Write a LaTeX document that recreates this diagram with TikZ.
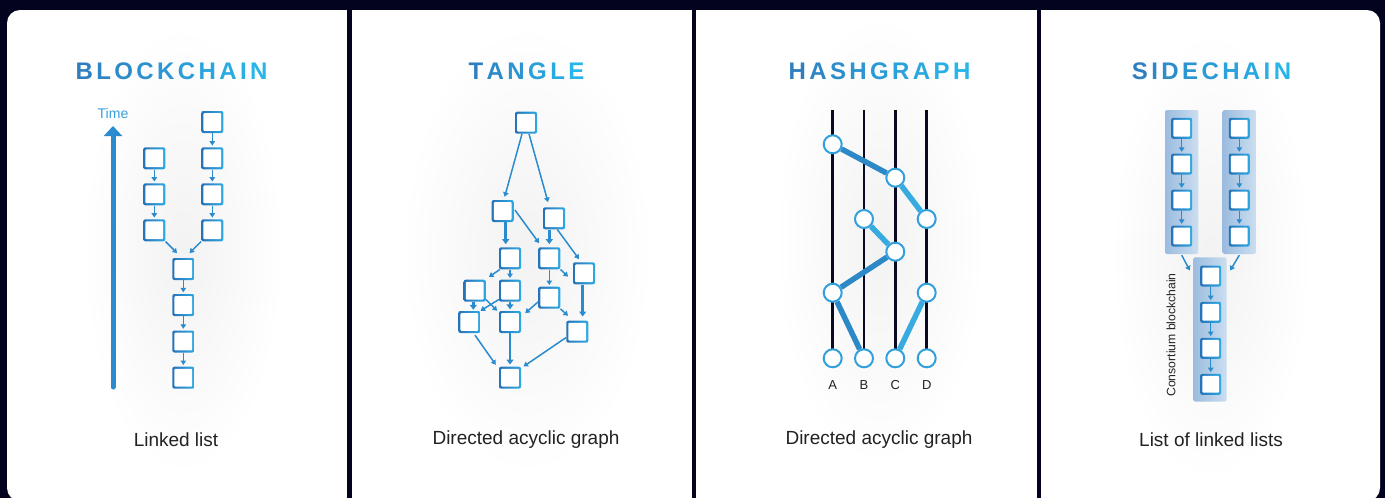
\documentclass[tikz,border=0pt]{standalone}
\usepackage{fontspec}
\setmainfont{Liberation Sans}
\usetikzlibrary{arrows.meta,calc}
\definecolor{navy}{HTML}{03031F}
\definecolor{tA}{HTML}{2F7FC0}
\definecolor{tB}{HTML}{27B6EA}
\definecolor{bxA}{HTML}{2773B8}
\definecolor{bxB}{HTML}{2FAAE4}
\definecolor{arrc}{HTML}{2B8BCF}
\definecolor{ink}{HTML}{222222}
\definecolor{vl}{HTML}{0A0922}
\definecolor{ring}{HTML}{32A0DC}
\definecolor{eA}{HTML}{2D88C8}
\definecolor{eB}{HTML}{37ABE0}
\definecolor{colA}{HTML}{9BBCDF}
\definecolor{colB}{HTML}{CCDEF0}
\newcommand\tl[2]{\textcolor{tB!#1!tA}{#2}}
\newcommand\tk{\kern3.4pt}
\tikzset{
  blk/.style={minimum size=22pt, inner sep=0pt, rounded corners=2pt,
    left color=bxA, right color=bxB,
    path picture={\fill[white,rounded corners=1pt]
      ($(path picture bounding box.south west)+(2.1pt,2.1pt)$) rectangle
      ($(path picture bounding box.north east)+(-2.1pt,-2.1pt)$);}},
  sblk/.style={blk, minimum size=21pt},
  arr/.style={draw=arrc, line width=1.5pt, -{Triangle[length=4.5pt,width=5.5pt]}},
  tarr/.style={draw=arrc, line width=2.7pt, -{Triangle[length=5pt,width=7pt]}},
  ttl/.style={font=\fontsize{24}{28}\selectfont\bfseries, inner sep=0pt},
  lbl/.style={font=\fontsize{19}{22}\selectfont, text=ink, inner sep=0pt},
  dot/.style={circle, draw=ring, fill=white, line width=2pt, minimum size=18pt, inner sep=0pt},
  vline/.style={draw=vl, line width=2.5pt},
  edgeA/.style={draw=eA, line width=5.5pt},
  edgeB/.style={draw=eB, line width=5.5pt},
  colbg/.style={minimum width=33.3pt, minimum height=144pt, inner sep=0pt, rounded corners=1.5pt,
    left color=colA, right color=colB},
  glow/.style={inner color=black!5, outer color=white},
}
\begin{document}
\begin{tikzpicture}[x=1pt,y=-1pt]
\useasboundingbox (0,0) rectangle (1385,498);
\fill[navy] (0,0) rectangle (1385,498);
% panels
\fill[white,rounded corners=13pt] (7,10) rectangle (346.5,501);
\fill[white] (200,10) rectangle (346.5,501);
\fill[white] (352,10) rectangle (692,505);
\fill[white] (696,10) rectangle (1037,505);
\fill[white,rounded corners=13pt] (1041,10) rectangle (1380,501);
\fill[white] (1041,10) rectangle (1200,501);

% soft glows behind the graphs
\shade[glow] (183,250) ellipse [x radius=100, y radius=225];
\shade[glow] (527,250) ellipse [x radius=125, y radius=225];
\shade[glow] (880,240) ellipse [x radius=105, y radius=225];
\shade[glow] (1211,256) ellipse [x radius=100, y radius=225];

% titles
\node[ttl] (t1) at (171.5,71) {\tl{0}{B}\tk\tl{11}{L}\tk\tl{22}{O}\tk\tl{33}{C}\tk\tl{44}{K}\tk\tl{56}{C}\tk\tl{67}{H}\tk\tl{78}{A}\tk\tl{89}{I}\tk\tl{100}{N}};
\node[ttl] (t2) at (526.5,71) {\tl{0}{T}\tk\tl{20}{A}\tk\tl{40}{N}\tk\tl{60}{G}\tk\tl{80}{L}\tk\tl{100}{E}};
\node[ttl] (t3) at (879.5,71) {\tl{0}{H}\tk\tl{13}{A}\tk\tl{25}{S}\tk\tl{38}{H}\tk\tl{50}{G}\tk\tl{63}{R}\tk\tl{75}{A}\tk\tl{88}{P}\tk\tl{100}{H}};
\node[ttl] (t4) at (1211.5,71) {\tl{0}{S}\tk\tl{13}{I}\tk\tl{25}{D}\tk\tl{38}{E}\tk\tl{50}{C}\tk\tl{63}{H}\tk\tl{75}{A}\tk\tl{88}{I}\tk\tl{100}{N}};

% bottom labels
\node[lbl] (b1) at (176,440) {Linked list};
\node[lbl] (b2) at (526,440) {Directed acyclic graph};
\node[lbl] (b3) at (879,440) {Directed acyclic graph};
\node[lbl] (b4) at (1211,440) {List of linked lists};

% ---------- BLOCKCHAIN ----------
\node[font=\fontsize{14}{16}\selectfont, text={rgb,255:red,58;green,160;blue,220}, inner sep=0pt] (time) at (113,113) {Time};
\coordinate (tbot) at (113,387);
\coordinate (ttop) at (113,126);
\draw[draw=arrc, line width=5pt, line cap=round, -{Triangle[length=10pt,width=18pt]}] (tbot) -- (ttop);

\node[blk] (L1) at (154.3,158.3) {};
\node[blk] (L2) at (154.3,194.3) {};
\node[blk] (L3) at (154.3,230.3) {};
\node[blk] (R0) at (212.3,122) {};
\node[blk] (R1) at (212.3,158.3) {};
\node[blk] (R2) at (212.3,194.3) {};
\node[blk] (R3) at (212.3,230.3) {};
\node[blk] (M1) at (183.3,269) {};
\node[blk] (M2) at (183.3,305) {};
\node[blk] (M3) at (183.3,341.5) {};
\node[blk] (M4) at (183.3,377.7) {};
\foreach \a/\b in {L1/L2,L2/L3,R0/R1,R1/R2,R2/R3,M1/M2,M2/M3,M3/M4}
  \draw[arr, shorten >=1.5pt] (\a.south) -- (\b.north);
\draw[arr] (L3.south east) -- ([xshift=5pt,yshift=4.7pt]M1.north west);
\draw[arr] (R3.south west) -- ([xshift=-5pt,yshift=4.7pt]M1.north east);

% ---------- TANGLE ----------
\node[blk] (T0) at (526,122.7) {};
\node[blk] (T1) at (502.7,211) {};
\node[blk] (T2) at (554,218.3) {};
\node[blk] (T3) at (510,258.3) {};
\node[blk] (T4) at (549.3,258.3) {};
\node[blk] (T5) at (584,273.3) {};
\node[blk] (T6) at (474.7,290.7) {};
\node[blk] (T7) at (510,290.7) {};
\node[blk] (T8) at (549.3,297.7) {};
\node[blk] (T9) at (469.3,322) {};
\node[blk] (T10) at (510,322) {};
\node[blk] (T11) at (577.3,331.7) {};
\node[blk] (T12) at (510,377.7) {};
\draw[arr] ([xshift=-4pt]T0.south) -- ([xshift=2pt,yshift=3pt]T1.north);
\draw[arr] ([xshift=3pt]T0.south) -- ([xshift=-6pt,yshift=5pt]T2.north);
\draw[tarr] ([xshift=3pt]T1.south) -- ([xshift=-4.3pt,yshift=3pt]T3.north);
\draw[arr] ([xshift=1pt,yshift=1pt]T1.east) -- ([xshift=1pt,yshift=4pt]T4.north west);
\draw[tarr] ([xshift=-4.7pt]T2.south) -- ([yshift=3pt]T4.north);
\draw[arr] ([xshift=3.3pt]T2.south) -- ([xshift=-5pt,yshift=3pt]T5.north);
\draw[arr] ([xshift=1pt]T3.south west) -- ([xshift=3pt,yshift=2.5pt]T6.north east);
\draw[arr, shorten >=1.5pt] (T3.south) -- (T7.north);
\draw[arr, shorten >=1.5pt] (T4.south) -- (T8.north);
\draw[arr] (T4.south east) -- ([xshift=-4.7pt,yshift=-3.4pt]T5.west);
\draw[tarr] ([xshift=-1.4pt]T6.south) -- ([xshift=4pt,yshift=1pt]T9.north);
\draw[arr] ([yshift=2.4pt]T7.south west) -- (T9.north east);
\draw[arr] ([yshift=2.4pt]T6.south east) -- ([xshift=-1.7pt]T10.north west);
\draw[tarr, shorten >=1.5pt] (T7.south) -- (T10.north);
\draw[arr] ([yshift=7pt]T8.south west) -- ([xshift=4pt,yshift=-2.3pt]T10.north east);
\draw[arr] (T8.south east) -- ([xshift=2pt,yshift=4.7pt]T11.north west);
\draw[tarr] ([xshift=-1.3pt]T5.south) -- ([xshift=5.4pt,yshift=4pt]T11.north);
\draw[arr] ([xshift=5.7pt,yshift=-2pt]T9.south) -- ([xshift=-3pt,yshift=1.7pt]T12.north west);
\draw[tarr, shorten >=2pt] (T10.south) -- (T12.north);
\draw[arr] ([yshift=5.4pt]T11.south west) -- ([xshift=2.3pt]T12.north east);

% ---------- HASHGRAPH ----------
\coordinate (topA) at (832.7,110); \coordinate (botA) at (832.7,358.3);
\coordinate (topB) at (864,110);   \coordinate (botB) at (864,358.3);
\coordinate (topC) at (895.3,110); \coordinate (botC) at (895.3,358.3);
\coordinate (topD) at (926.7,110); \coordinate (botD) at (926.7,358.3);
\foreach \k in {A,B,C,D} \draw[vline] (top\k) -- (bot\k);
\node[dot] (A1) at (832.7,144.3) {};
\node[dot] (C1) at (895.3,177.7) {};
\node[dot] (B1) at (864,219) {};
\node[dot] (D1) at (926.7,219) {};
\node[dot] (C2) at (895.3,251.7) {};
\node[dot] (A2) at (832.7,292.7) {};
\node[dot] (D2) at (926.7,292.7) {};
\node[dot] (A0) at (832.7,358.3) {};
\node[dot] (B0) at (864,358.3) {};
\node[dot] (C0) at (895.3,358.3) {};
\node[dot] (D0) at (926.7,358.3) {};
\draw[edgeA] (A1) -- (C1);
\draw[edgeB] (C1) -- (D1);
\draw[edgeB] (B1) -- (C2);
\draw[edgeA] (C2) -- (A2);
\draw[edgeA] (A2) -- (B0);
\draw[edgeB] (D2) -- (C0);
\foreach \k/\x in {A/832.7,B/864,C/895.3,D/926.7}
  \node[font=\fontsize{13}{15}\selectfont, text=ink, inner sep=0pt] (lab\k) at (\x,385) {\k};

% ---------- SIDECHAIN ----------
\node[colbg] (colL) at (1181.7,182) {};
\node[colbg] (colR) at (1239.3,182) {};
\node[colbg, minimum height=144.4pt] (colB) at (1210,329.5) {};
\foreach \i/\y in {1/128.3,2/164,3/200,4/236} {
  \node[sblk] (SL\i) at (1181.7,\y) {};
  \node[sblk] (SR\i) at (1239.3,\y) {};
}
\foreach \i/\y in {1/276,2/312.3,3/348.3,4/384.3}
  \node[sblk] (SB\i) at (1210.7,\y) {};
\foreach \a/\b in {1/2,2/3,3/4} {
  \draw[arr, shorten >=1.5pt] (SL\a.south) -- (SL\b.north);
  \draw[arr, shorten >=1.5pt] (SR\a.south) -- (SR\b.north);
  \draw[arr, shorten >=1.5pt] (SB\a.south) -- (SB\b.north);
}
\draw[arr] ([yshift=-1pt]colL.south) -- ([xshift=-3.3pt,yshift=-13.4pt]colB.north west);
\draw[arr] ([yshift=-1pt]colR.south) -- ([xshift=3.3pt,yshift=-13.4pt]colB.north east);
\node[rotate=90, font=\fontsize{12.2}{14}\selectfont, text=ink, inner sep=0pt] (cons) at (1171,335) {Consortium blockchain};
\end{tikzpicture}
\end{document}
